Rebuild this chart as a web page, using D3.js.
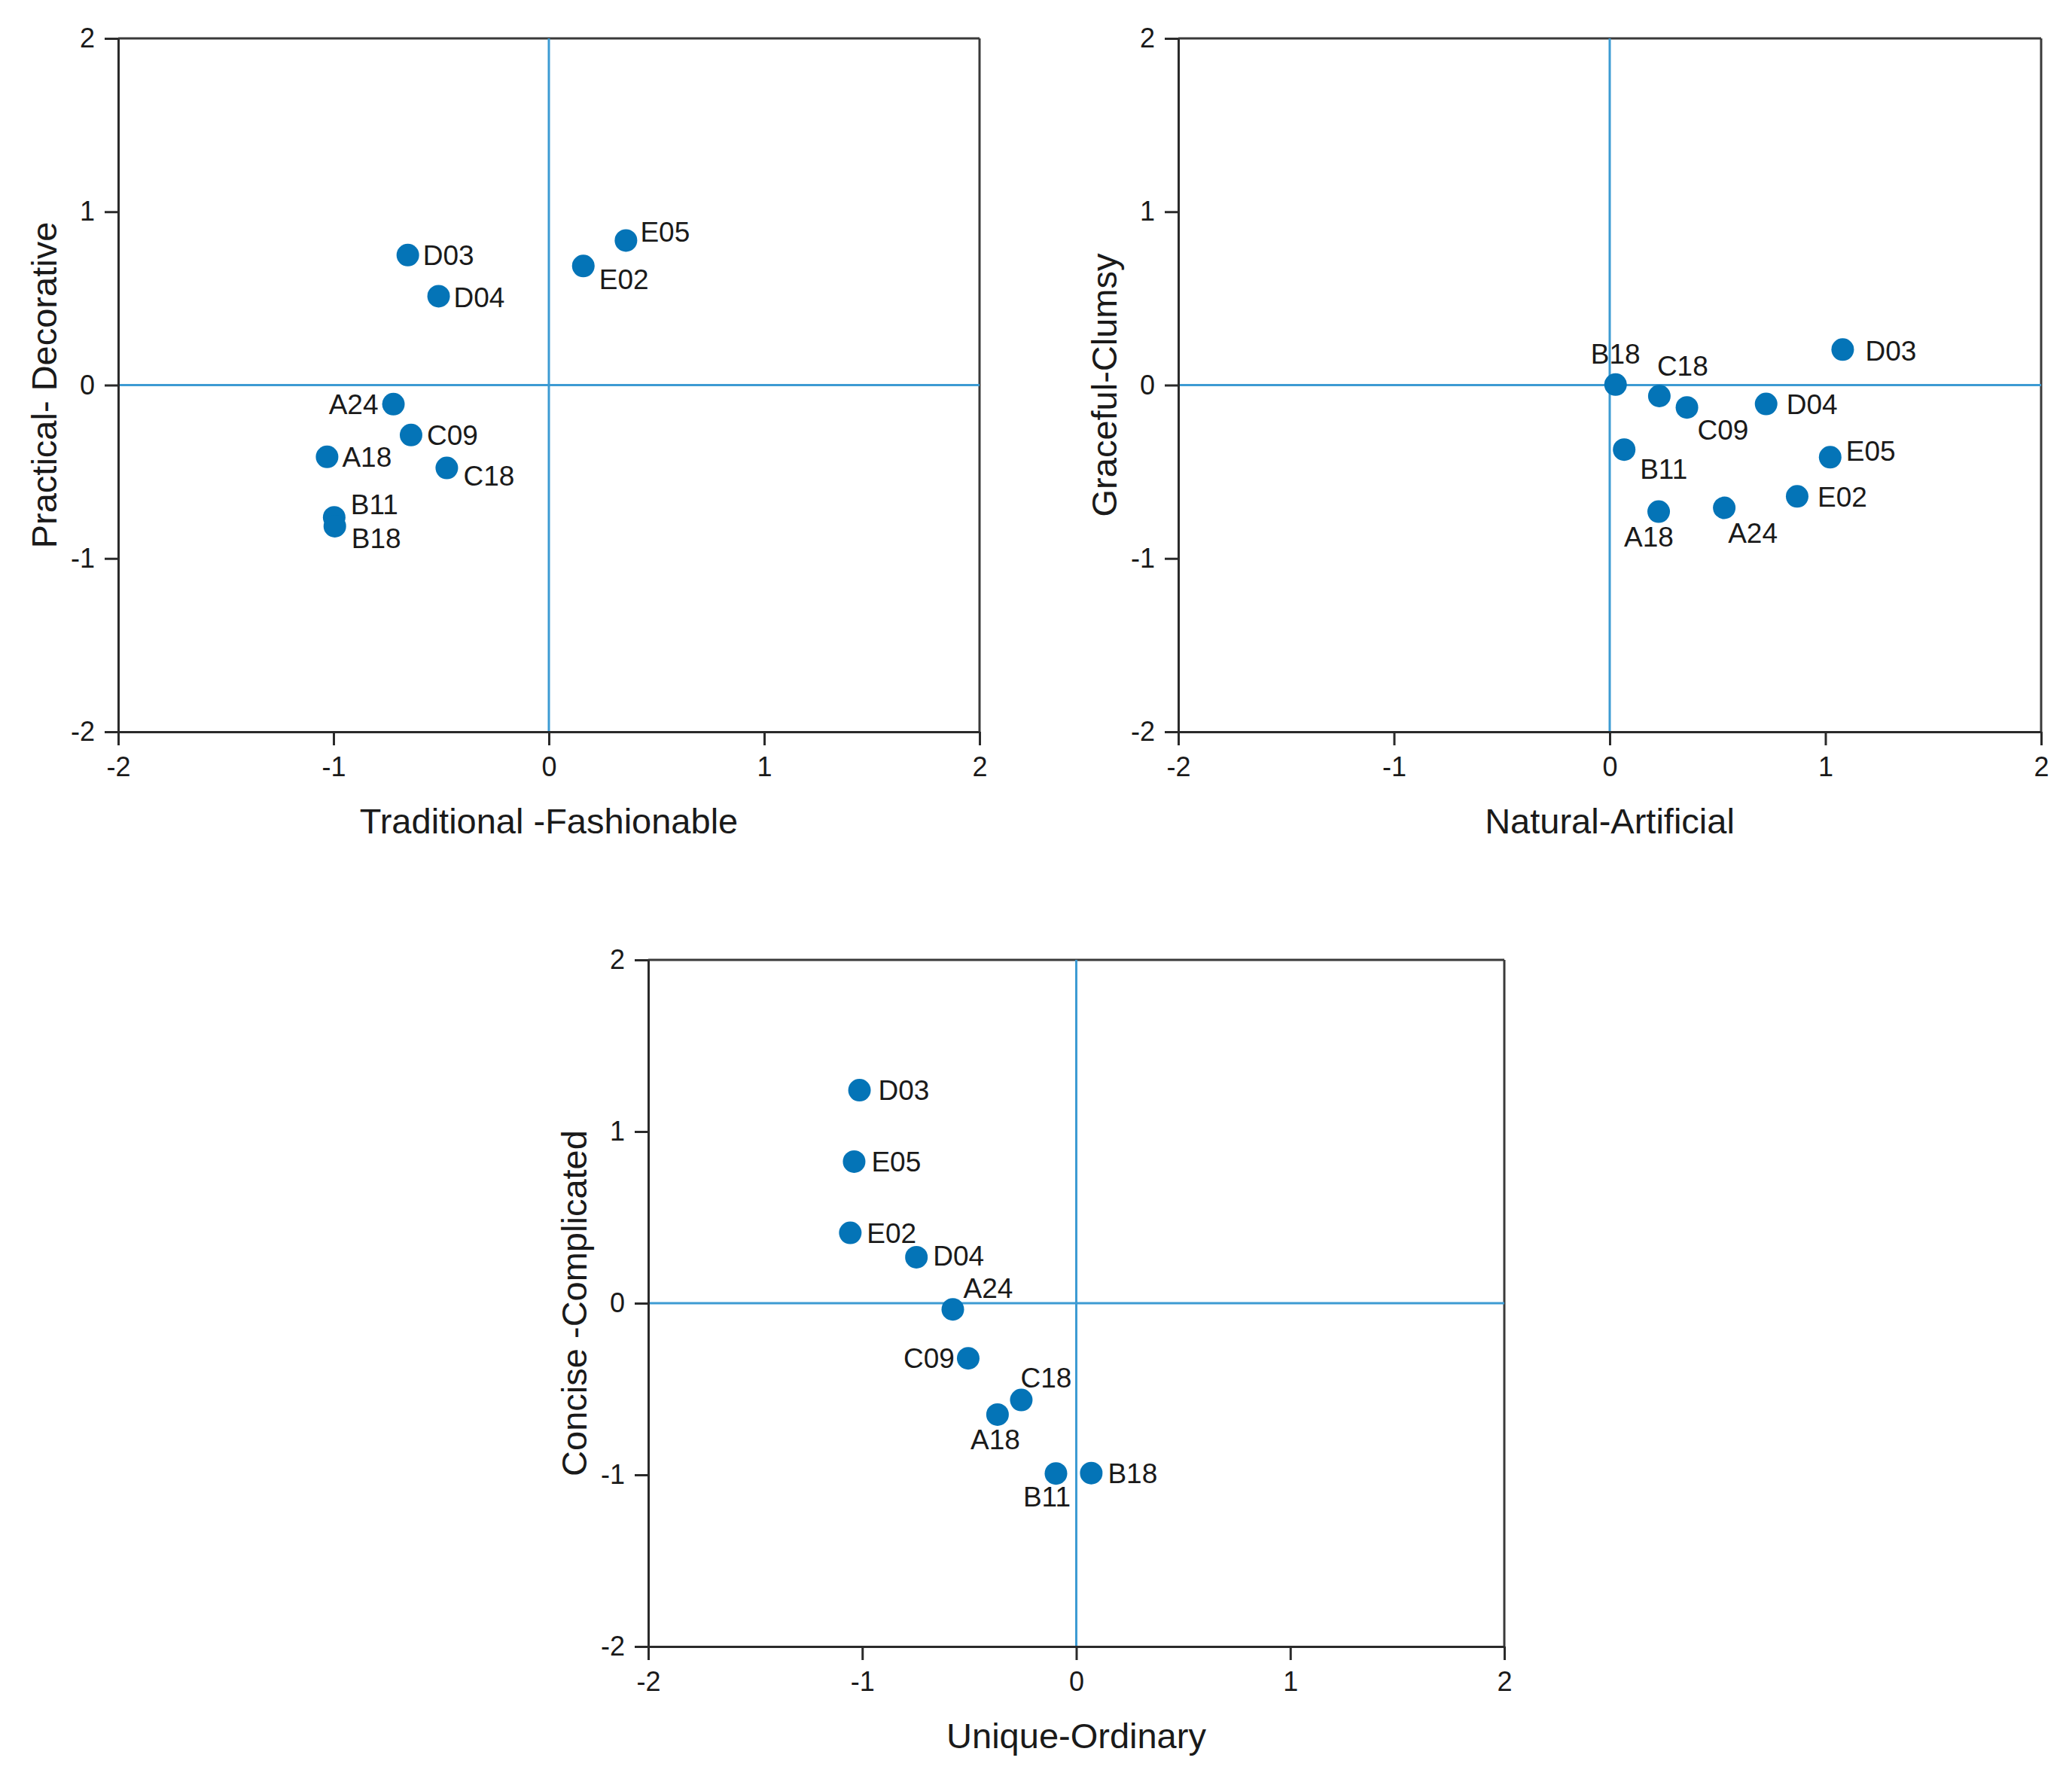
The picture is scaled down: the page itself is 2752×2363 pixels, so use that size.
<!DOCTYPE html>
<html>
<head>
<meta charset="utf-8">
<script src="https://cdn.jsdelivr.net/npm/d3@7"></script>
<style>
  html, body { margin: 0; padding: 0; background: #ffffff; }
  svg { display: block; }
  text { font-family: "Liberation Sans", Arial, sans-serif; fill: #1a1a1a; }
</style>
</head>
<body>
<svg id="chart" width="2752" height="2363"></svg>
<script>
// ---------------- DATA ----------------
const categories = ["A18", "A24", "B11", "B18", "C09", "C18", "D03", "D04", "E02", "E05"];
const tickValues = [-2, -1, 0, 1, 2];
const tickLabels = ["-2", "-1", "0", "1", "2"];

// Panel 1: Traditional -Fashionable vs Practical- Decorative
const p1Title = ["Traditional -Fashionable", "Practical- Decorative"];
const p1X = [-1.03, -0.722, -0.997, -0.994, -0.64, -0.474, -0.655, -0.512, 0.16, 0.358];
const p1Y = [-0.414, -0.11, -0.763, -0.814, -0.288, -0.478, 0.75, 0.513, 0.687, 0.834];

// Panel 2: Natural-Artificial vs Graceful-Clumsy
const p2Title = ["Natural-Artificial", "Graceful-Clumsy"];
const p2X = [0.227, 0.531, 0.067, 0.027, 0.358, 0.23, 1.08, 0.725, 0.869, 1.022];
const p2Y = [-0.73, -0.708, -0.372, 0.003, -0.129, -0.063, 0.205, -0.109, -0.642, -0.416];

// Panel 3: Unique-Ordinary vs Concise -Complicated
const p3Title = ["Unique-Ordinary", "Concise -Complicated"];
const p3X = [-0.368, -0.577, -0.095, 0.07, -0.505, -0.257, -1.013, -0.747, -1.056, -1.038];
const p3Y = [-0.649, -0.036, -0.992, -0.99, -0.321, -0.564, 1.241, 0.268, 0.41, 0.825];

// ---------------- LABEL PLACEMENT (anchor, dx, dy) ----------------
const p1Place = [["start",20,0],["end",-20,0],["start",22,-17],["start",22,16],["start",21,0],
                 ["start",22,10],["start",20,0],["start",20,1],["start",21,17],["start",19,-12]];
const p2Place = [["middle",-13,33],["start",5,33],["start",21,26],["middle",0,-41],["start",14,30],
                 ["start",-3,-40],["start",30,1],["start",27,0],["start",27,0],["start",21,-9]];
const p3Place = [["middle",-3,33],["start",14,-28],["middle",-12,31],["start",22,0],["end",-18,0],
                 ["start",-1,-30],["start",25,0],["start",22,-2],["start",22,0],["start",23,0]];

// ---------------- LAYOUT ----------------
const panels = [
  { left: 157, right: 1301, top: 51, bottom: 972, xs: p1X, ys: p1Y, titles: p1Title, place: p1Place },
  { left: 1565, right: 2711, top: 51, bottom: 972, xs: p2X, ys: p2Y, titles: p2Title, place: p2Place },
  { left: 861, right: 1998, top: 1275, bottom: 2187, xs: p3X, ys: p3Y, titles: p3Title, place: p3Place }
];

const svg = d3.select("#chart");
const dotColor = "#0474b7";
const refColor = "#3d9bd3";
const axisColor = "#2a2a2a";
const tickFont = 36, labelFont = 37, titleFont = 47;

panels.forEach(p => {
  const x = d3.scaleLinear().domain([-2, 2]).range([p.left, p.right]);
  const y = d3.scaleLinear().domain([-2, 2]).range([p.bottom, p.top]);
  const g = svg.append("g");

  // frame top & right
  g.append("line").attr("x1", x(-2)).attr("x2", x(2)).attr("y1", y(2)).attr("y2", y(2))
    .attr("stroke", "#3a3a3a").attr("stroke-width", 3);
  g.append("line").attr("x1", x(2)).attr("x2", x(2)).attr("y1", y(-2)).attr("y2", y(2))
    .attr("stroke", "#3a3a3a").attr("stroke-width", 3);

  // reference lines at 0
  g.append("line").attr("x1", x(-2)).attr("x2", x(2)).attr("y1", y(0)).attr("y2", y(0))
    .attr("stroke", refColor).attr("stroke-width", 3);
  g.append("line").attr("x1", x(0)).attr("x2", x(0)).attr("y1", y(-2)).attr("y2", y(2))
    .attr("stroke", refColor).attr("stroke-width", 3);

  // axes
  const xAxis = d3.axisBottom(x).tickValues(tickValues)
    .tickFormat((d, i) => tickLabels[i]).tickSize(18).tickPadding(15).tickSizeOuter(0);
  const yAxis = d3.axisLeft(y).tickValues(tickValues)
    .tickFormat((d, i) => tickLabels[i]).tickSize(18).tickPadding(13).tickSizeOuter(0);

  const gx = g.append("g").attr("transform", `translate(0,${p.bottom})`).call(xAxis);
  const gy = g.append("g").attr("transform", `translate(${p.left},0)`).call(yAxis);
  [gx, gy].forEach(a => {
    a.select(".domain").attr("stroke", axisColor).attr("stroke-width", 3);
    a.selectAll(".tick line").attr("stroke", axisColor).attr("stroke-width", 3);
    a.selectAll(".tick text").attr("font-size", tickFont)
      .attr("font-family", "'Liberation Sans', Arial, sans-serif").attr("fill", "#1a1a1a");
  });

  // axis titles
  g.append("text").attr("x", (p.left + p.right) / 2).attr("y", p.bottom + 135)
    .attr("text-anchor", "middle").attr("font-size", titleFont).text(p.titles[0]);
  const cy = (p.top + p.bottom) / 2;
  g.append("text").attr("transform", `translate(${p.left - 82},${cy}) rotate(-90)`)
    .attr("text-anchor", "middle").attr("font-size", titleFont).text(p.titles[1]);

  // points
  const pts = categories.map((c, i) => ({ name: c, vx: p.xs[i], vy: p.ys[i], pl: p.place[i] }));
  g.selectAll("circle.pt").data(pts).enter().append("circle").attr("class", "pt")
    .attr("cx", d => x(d.vx)).attr("cy", d => y(d.vy)).attr("r", 15).attr("fill", dotColor);

  g.selectAll("text.lbl").data(pts).enter().append("text").attr("class", "lbl")
    .attr("x", d => x(d.vx) + d.pl[1])
    .attr("y", d => y(d.vy) + d.pl[2] + 0.358 * labelFont)
    .attr("text-anchor", d => d.pl[0])
    .attr("font-size", labelFont)
    .text(d => d.name);
});
</script>
</body>
</html>
